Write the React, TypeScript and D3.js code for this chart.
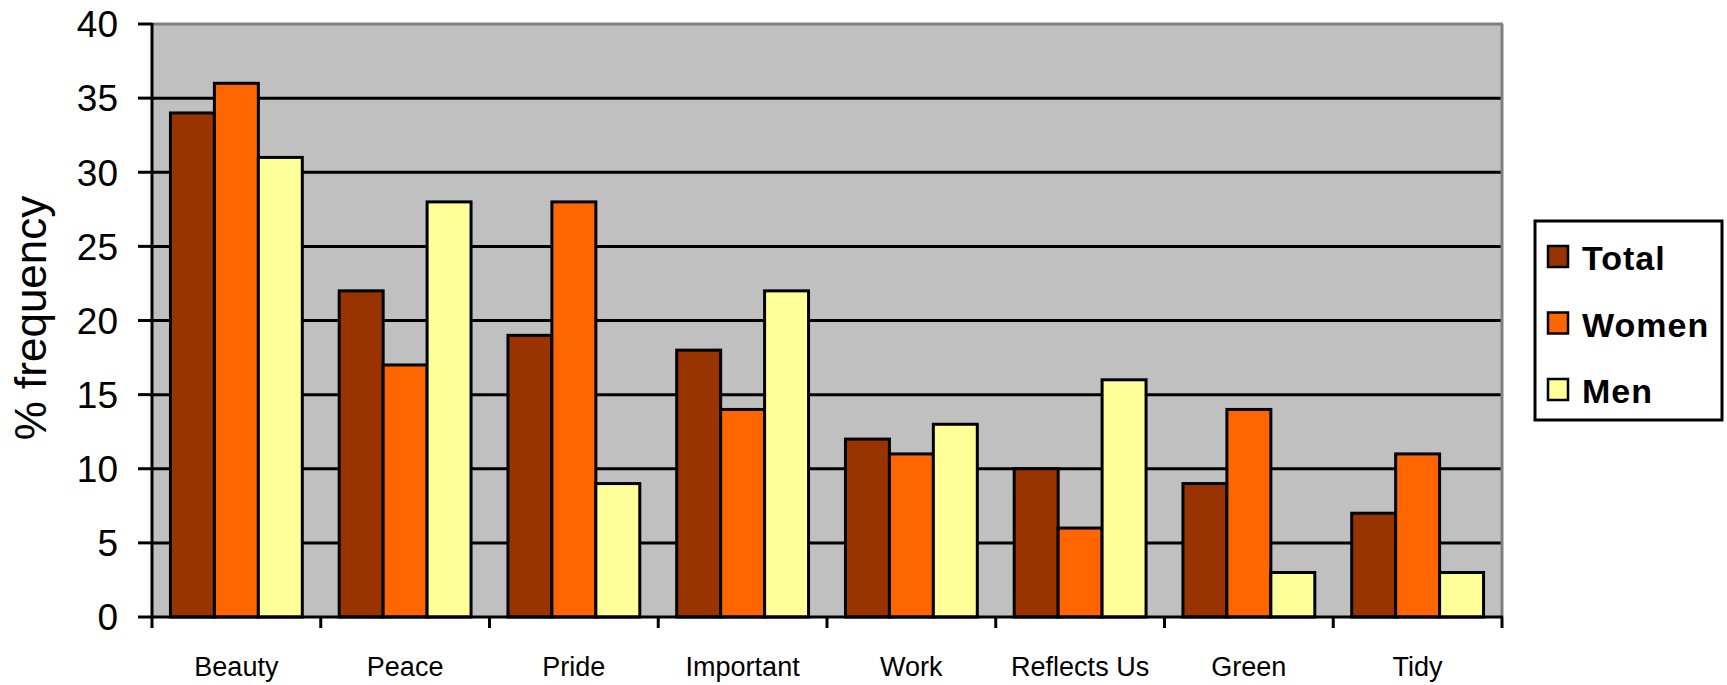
import * as d3 from 'd3';

const categories = ['Beauty', 'Peace', 'Pride', 'Important', 'Work', 'Reflects Us', 'Green', 'Tidy'];
const seriesNames = ['Total', 'Women', 'Men'];
const totalValues = [34, 22, 19, 18, 12, 10, 9, 7];
const womenValues = [36, 17, 28, 14, 11, 6, 14, 11];
const menValues = [31, 28, 9, 22, 13, 16, 3, 3];
const yTicks = [0, 5, 10, 15, 20, 25, 30, 35, 40];
const colors = ['#993300', '#FF6600', '#FFFF99'];

const font = '"Liberation Sans", Arial, sans-serif';

export default function App() {
    const width = 1727;
    const height = 685;
    // plot area
    const left = 152, right = 1502, top = 24, bottom = 617;

    const values = [totalValues, womenValues, menValues];

    const xScale = d3.scaleBand<string>().domain(categories).range([left, right]).padding(0);
    const xInner = d3.scaleBand<string>().domain(seriesNames).range([0, xScale.bandwidth()]).paddingInner(0).paddingOuter(0.42);
    const yScale = d3.scaleLinear().domain([0, 40]).range([bottom, top]);

    return (
        <div style={{ position: 'absolute', left: 0, top: 0 }}>
            <svg width={width} height={height} style={{ display: 'block', background: '#fff' }}>
                {/* plot background */}
                <rect x={left} y={top} width={right - left} height={bottom - top} fill="#C0C0C0" />

                {/* grid lines */}
                {yTicks.filter((t) => t > 0 && t < 40).map((t) => (
                    <line key={t} x1={left} x2={right} y1={yScale(t)} y2={yScale(t)} stroke="#000" strokeWidth={3} />
                ))}

                {/* top and right border */}
                <line x1={left} x2={right + 1} y1={yScale(40)} y2={yScale(40)} stroke="#808080" strokeWidth={3} />
                <line x1={right} x2={right} y1={top} y2={bottom} stroke="#808080" strokeWidth={3} />

                {/* bars */}
                {categories.map((c, i) => (
                    <g key={c} transform={`translate(${xScale(c)},0)`}>
                        {seriesNames.map((s, j) => (
                            <rect
                                key={s}
                                x={xInner(s)}
                                y={yScale(values[j][i])}
                                width={xInner.bandwidth()}
                                height={yScale(0) - yScale(values[j][i])}
                                fill={colors[j]}
                                stroke="#000"
                                strokeWidth={3}
                            />
                        ))}
                    </g>
                ))}

                {/* y axis */}
                <line x1={left} x2={left} y1={top - 1} y2={bottom + 11} stroke="#000" strokeWidth={3} />
                {yTicks.map((t) => (
                    <g key={t}>
                        <line x1={left - 14} x2={left} y1={yScale(t)} y2={yScale(t)} stroke="#000" strokeWidth={3} />
                        <text x={118} y={yScale(t)} dy="0.36em" textAnchor="end" fontFamily={font} fontSize={37} fill="#000">
                            {t}
                        </text>
                    </g>
                ))}

                {/* x axis */}
                <line x1={left} x2={right + 1} y1={bottom} y2={bottom} stroke="#000" strokeWidth={3} />
                {categories.map((c) => (
                    <line key={c} x1={(xScale(c) as number) + xScale.bandwidth()} x2={(xScale(c) as number) + xScale.bandwidth()} y1={bottom} y2={bottom + 11} stroke="#000" strokeWidth={3} />
                ))}
                {categories.map((c) => (
                    <text key={c} x={(xScale(c) as number) + xScale.bandwidth() / 2} y={676} textAnchor="middle" fontFamily={font} fontSize={27} fill="#000">
                        {c}
                    </text>
                ))}

                {/* y title */}
                <text transform="translate(46,318) rotate(-90)" textAnchor="middle" fontFamily={font} fontSize={44} fill="#000">
                    % frequency
                </text>

                {/* legend */}
                <rect x={1535} y={221} width={187} height={199} fill="#fff" stroke="#000" strokeWidth={3} />
                {seriesNames.map((s, j) => (
                    <g key={s} transform={`translate(1548,${270 + j * 66.5})`}>
                        <rect x={0} y={-24} width={20} height={21} fill={colors[j]} stroke="#000" strokeWidth={2.5} />
                        <text x={34} y={0} fontFamily={font} fontSize={34} fontWeight="bold" letterSpacing={1} fill="#000">
                            {s}
                        </text>
                    </g>
                ))}
            </svg>
        </div>
    );
}
